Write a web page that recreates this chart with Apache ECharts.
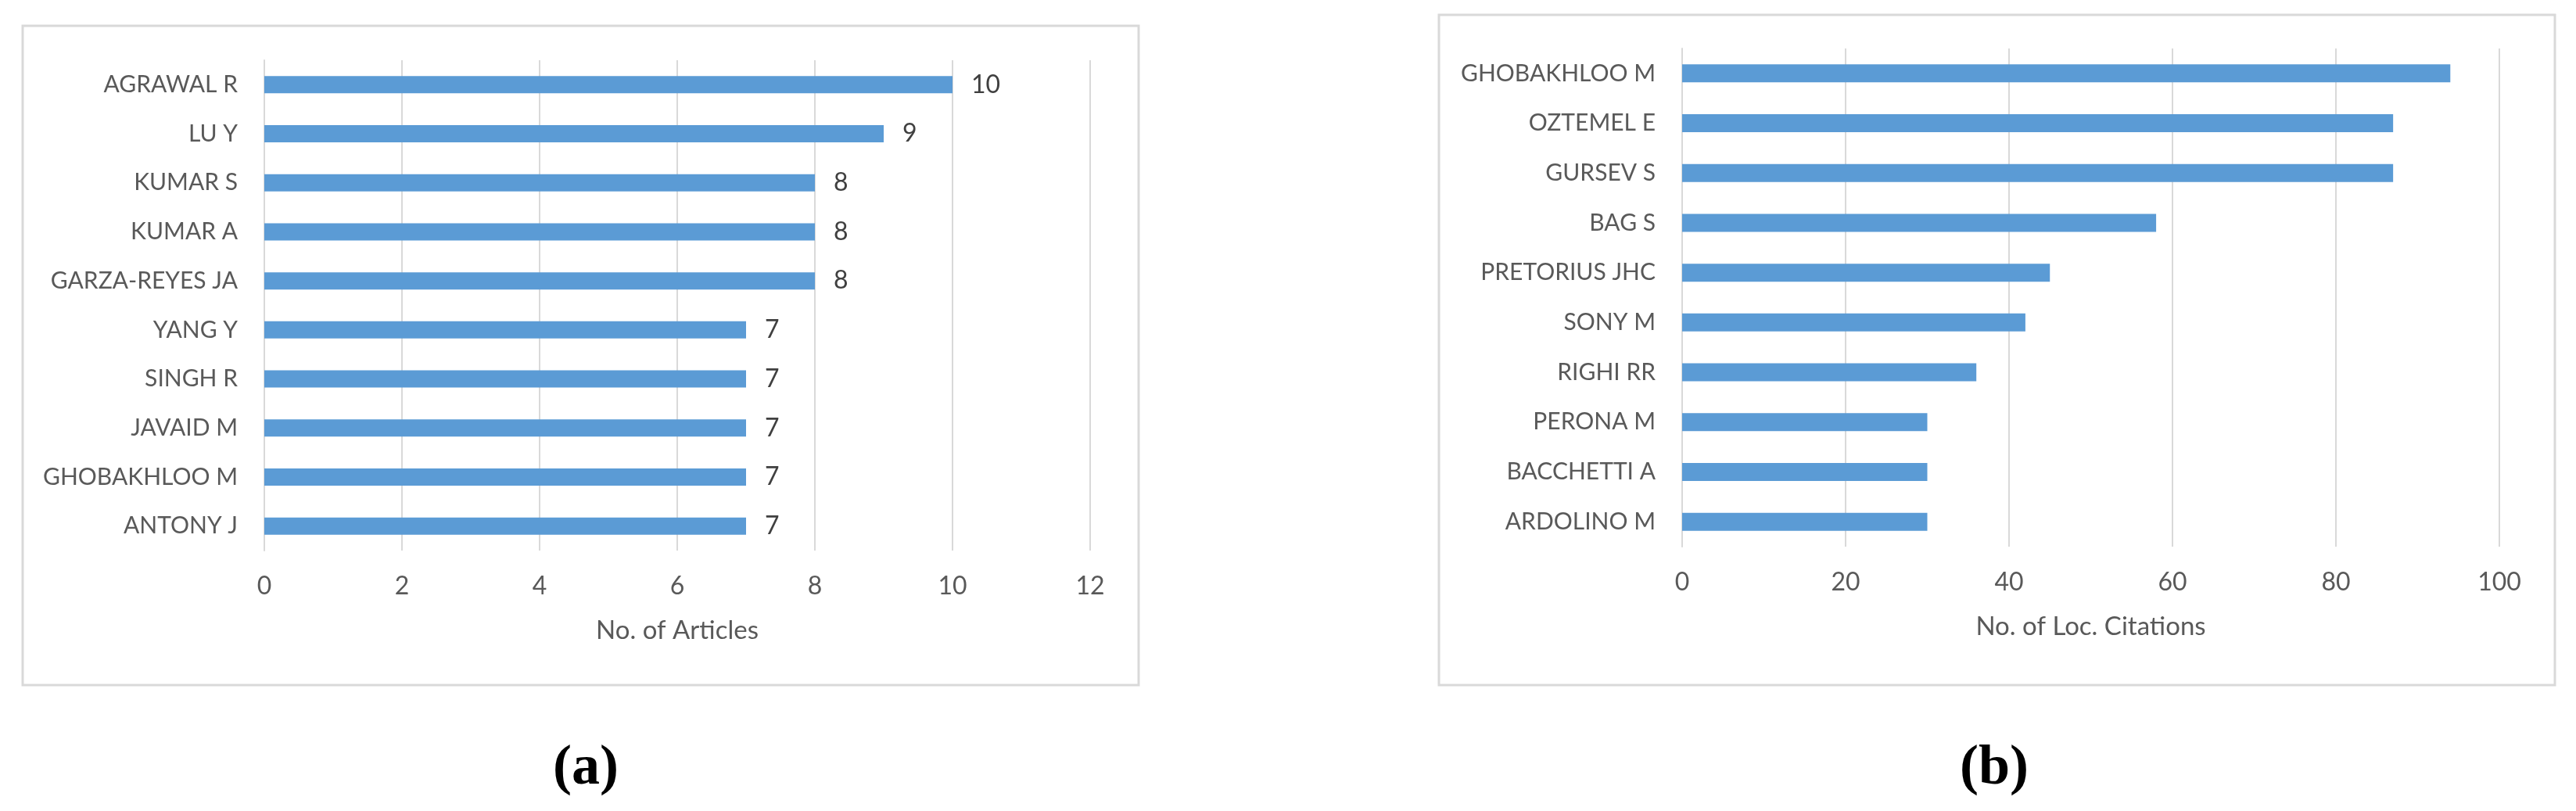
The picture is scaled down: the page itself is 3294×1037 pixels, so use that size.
<!DOCTYPE html>
<html>
<head>
<meta charset="utf-8">
<script src="https://cdn.jsdelivr.net/npm/echarts@6/dist/echarts.min.js"></script>
<style>
  html, body { margin: 0; padding: 0; background: #fff; }
  #chart_con { width: 3294px; height: 1037px; }
</style>
</head>
<body>
<div id="chart_con"></div>
<script>
// panel (a): articles per author
const authorsA = ['AGRAWAL R', 'LU Y', 'KUMAR S', 'KUMAR A', 'GARZA-REYES JA', 'YANG Y', 'SINGH R', 'JAVAID M', 'GHOBAKHLOO M', 'ANTONY J'];
const articles = [10, 9, 8, 8, 8, 7, 7, 7, 7, 7];

// panel (b): local citations per author
const authorsB = ['GHOBAKHLOO M', 'OZTEMEL E', 'GURSEV S', 'BAG S', 'PRETORIUS JHC', 'SONY M', 'RIGHI RR', 'PERONA M', 'BACCHETTI A', 'ARDOLINO M'];
const citations = [94, 87, 87, 58, 45, 42, 36, 30, 30, 30];

const axisNames = ['No. of Articles', 'No. of Loc. Citations'];
const captions = ['(a)', '(b)'];

const FONT = 'Lato';
const TEXT = '#595959';
const GRID_LINE = '#D9D9D9';
const BAR = '#5B9BD5';

function valueAxis (gridIndex, max, interval, name) {
    return {
        type: 'value',
        gridIndex: gridIndex,
        min: 0,
        max: max,
        interval: interval,
        name: name,
        nameLocation: 'middle',
        nameGap: 86,
        nameTextStyle: { color: TEXT, fontSize: 33, fontFamily: FONT },
        axisLine: { show: false },
        axisTick: { show: false },
        axisLabel: { color: TEXT, fontSize: 32, fontFamily: FONT, margin: 30 },
        splitLine: { show: true, lineStyle: { color: GRID_LINE, width: 2 } }
    };
}

function categoryAxis (gridIndex, data) {
    return {
        type: 'category',
        gridIndex: gridIndex,
        inverse: true,
        data: data,
        axisLine: { show: true, lineStyle: { color: GRID_LINE, width: 2 } },
        axisTick: { show: false },
        axisLabel: { color: TEXT, fontSize: 30, fontFamily: FONT, margin: 34 },
        splitLine: { show: false }
    };
}

let chart = echarts.init(document.getElementById('chart_con'), null, { renderer: 'canvas' });

const option = {
    backgroundColor: '#fff',
    animation: false,
    grid: [
        { left: 338, top: 77, width: 1056, height: 627 },
        { left: 2151, top: 62, width: 1045, height: 637 }
    ],
    xAxis: [
        valueAxis(0, 12, 2, axisNames[0]),
        valueAxis(1, 100, 20, axisNames[1])
    ],
    yAxis: [
        categoryAxis(0, authorsA),
        categoryAxis(1, authorsB)
    ],
    series: [
        {
            type: 'bar',
            xAxisIndex: 0,
            yAxisIndex: 0,
            data: articles,
            barWidth: 22,
            itemStyle: { color: BAR },
            label: {
                show: true,
                position: 'right',
                distance: 24,
                color: '#404040',
                fontSize: 32,
                fontFamily: FONT
            }
        },
        {
            type: 'bar',
            xAxisIndex: 1,
            yAxisIndex: 1,
            data: citations,
            barWidth: 23,
            itemStyle: { color: BAR }
        }
    ],
    graphic: [
        // panel frames
        { type: 'rect', shape: { x: 29, y: 33, width: 1427, height: 843 }, style: { fill: 'none', stroke: GRID_LINE, lineWidth: 3 }, silent: true },
        { type: 'rect', shape: { x: 1840, y: 19, width: 1427, height: 857 }, style: { fill: 'none', stroke: GRID_LINE, lineWidth: 3 }, silent: true },
        // captions
        { type: 'text', x: 749, y: 983, style: { text: captions[0], fill: '#000', font: 'bold 72px "Liberation Serif"', textAlign: 'center', textVerticalAlign: 'middle' } },
        { type: 'text', x: 2550, y: 983, style: { text: captions[1], fill: '#000', font: 'bold 72px "Liberation Serif"', textAlign: 'center', textVerticalAlign: 'middle' } }
    ]
};

chart.setOption(option);

window.addEventListener('resize', function () {
    chart.resize();
});
</script>
</body>
</html>
